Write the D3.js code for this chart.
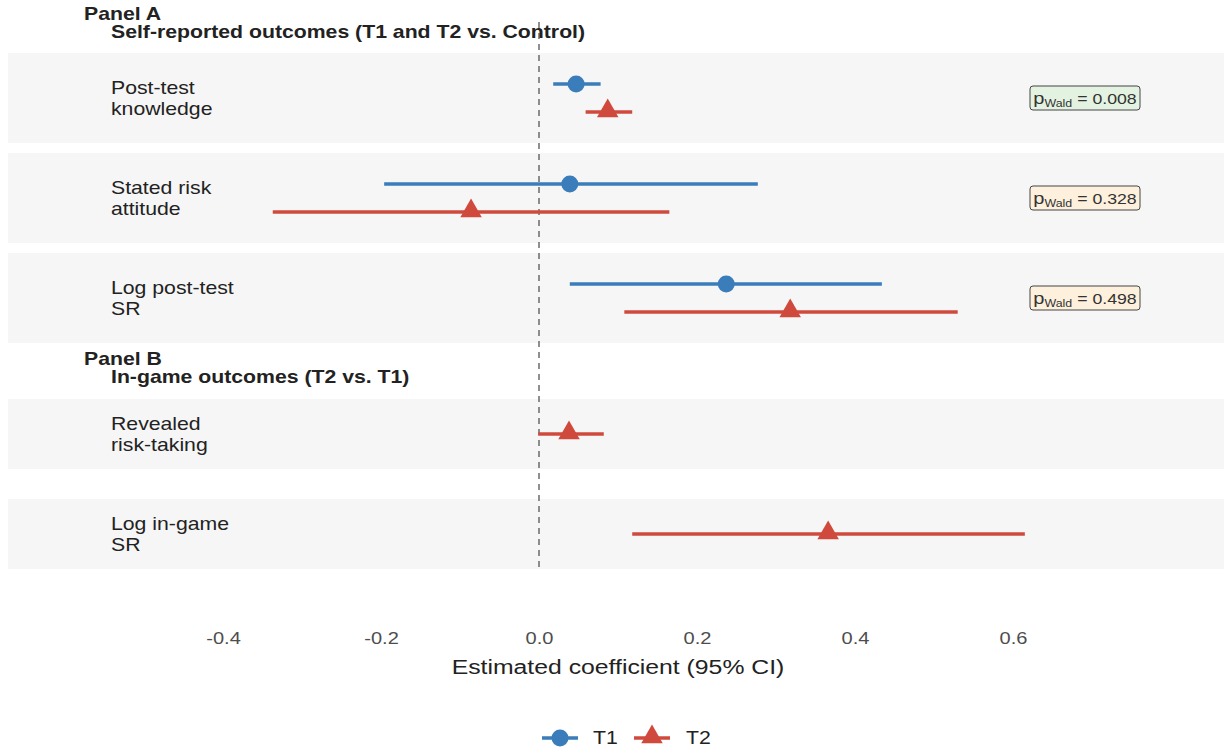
<!DOCTYPE html>
<html>
<head>
<meta charset="utf-8">
<script src="https://cdn.jsdelivr.net/npm/d3@7"></script>
<style>
  body { margin: 0; background: #fff; }
  text { font-family: "Liberation Sans", Arial, sans-serif; }
</style>
</head>
<body>
<svg id="chart" width="1224" height="753"></svg>
<script>
'use strict';

// outcomes, top to bottom
const OUTCOMES = [
    ["Post-test", "knowledge"],
    ["Stated risk", "attitude"],
    ["Log post-test", "SR"],
    ["Revealed", "risk-taking"],
    ["Log in-game", "SR"]
];
const PANEL = ["A", "A", "A", "B", "B"];

// T1 estimates and 95% CI (panel A only)
const T1_EST = [0.047, 0.039, 0.237, null, null];
const T1_LO = [0.018, -0.196, 0.039, null, null];
const T1_HI = [0.078, 0.277, 0.434, null, null];

// T2 estimates and 95% CI
const T2_EST = [0.087, -0.086, 0.318, 0.038, 0.366];
const T2_LO = [0.059, -0.337, 0.108, -0.001, 0.118];
const T2_HI = [0.118, 0.165, 0.530, 0.082, 0.615];

// Wald test p-values
const P_WALD = ["0.008", "0.328", "0.498", null, null];
const P_SIG = [true, false, false, null, null];

const X_TICKS = [-0.4, -0.2, 0.0, 0.2, 0.4, 0.6];

const BLUE = "#3a7dba";
const RED = "#cf4a3d";
const SX = 1.18; // the source font renders wider than Liberation Sans

const svg = d3.select("#chart");

const x = d3.scaleLinear().domain([-0.4, 0.6]).range([223, 1013]);

// band layout: panel A rows are taller (two series), panel B rows shorter
function bandTop(i) {
    return PANEL[i] === "A" ? 53 + i * 100 : 399 + (i - 3) * 100;
}
function bandHeight(i) {
    return PANEL[i] === "A" ? 90 : 70;
}
function bandMid(i) {
    return bandTop(i) + bandHeight(i) / 2;
}

/**
 * Text placed at (tx, ty), stretched horizontally by SX
 */
function wideText(parent, tx, ty, size) {
    return parent.append("g")
        .attr("transform", "translate(" + tx + "," + ty + ") scale(" + SX + ",1)")
        .append("text")
        .attr("font-size", size)
        .attr("fill", "#222");
}

const rows = OUTCOMES.map((o, i) => ({
    i: i,
    label: o,
    panel: PANEL[i],
    t1: T1_EST[i] === null ? null : { est: T1_EST[i], lo: T1_LO[i], hi: T1_HI[i] },
    t2: { est: T2_EST[i], lo: T2_LO[i], hi: T2_HI[i] },
    p: P_WALD[i],
    sig: P_SIG[i]
}));

// background bands
svg.append("g").selectAll("rect")
    .data(rows)
    .enter()
    .append("rect")
    .attr("x", 8)
    .attr("y", d => bandTop(d.i))
    .attr("width", 1224 - 8)
    .attr("height", d => bandHeight(d.i))
    .attr("fill", "#f6f6f6");

// zero reference line
svg.append("line")
    .attr("x1", x(0)).attr("x2", x(0))
    .attr("y1", 22).attr("y2", 570)
    .attr("stroke", "#555")
    .attr("stroke-width", 1.3)
    .attr("stroke-dasharray", "6,5");

// panel titles
const titles = [
    { head: "Panel A", sub: "Self-reported outcomes (T1 and T2 vs. Control)", y: 14 },
    { head: "Panel B", sub: "In-game outcomes (T2 vs. T1)", y: 359 }
];
titles.forEach(t => {
    wideText(svg, 84, t.y, 18)
        .attr("dy", "0.36em")
        .attr("font-weight", "bold")
        .text(t.head);
    wideText(svg, 111, t.y + 18, 18)
        .attr("dy", "0.36em")
        .attr("font-weight", "bold")
        .text(t.sub);
});

// outcome labels
rows.forEach(d => {
    const t = wideText(svg, 111, bandMid(d.i), 18);
    t.append("tspan").attr("x", 0).attr("dy", "-0.22em").text(d.label[0]);
    t.append("tspan").attr("x", 0).attr("dy", "1.17em").text(d.label[1]);
});

const DODGE = 14;
const triangle = d3.symbol().type(d3.symbolTriangle).size(200);

// T1 series
const t1 = svg.append("g").selectAll("g")
    .data(rows.filter(d => d.t1))
    .enter()
    .append("g");
t1.append("line")
    .attr("x1", d => x(d.t1.lo)).attr("x2", d => x(d.t1.hi))
    .attr("y1", d => bandMid(d.i) - DODGE).attr("y2", d => bandMid(d.i) - DODGE)
    .attr("stroke", BLUE).attr("stroke-width", 3.5);
t1.append("circle")
    .attr("cx", d => x(d.t1.est))
    .attr("cy", d => bandMid(d.i) - DODGE)
    .attr("r", 8.5)
    .attr("fill", BLUE);

// T2 series
function t2y(d) {
    return d.t1 ? bandMid(d.i) + DODGE : bandMid(d.i);
}
const t2 = svg.append("g").selectAll("g")
    .data(rows)
    .enter()
    .append("g");
t2.append("line")
    .attr("x1", d => x(d.t2.lo)).attr("x2", d => x(d.t2.hi))
    .attr("y1", t2y).attr("y2", t2y)
    .attr("stroke", RED).attr("stroke-width", 3.5);
t2.append("path")
    .attr("d", triangle)
    .attr("transform", d => "translate(" + x(d.t2.est) + "," + (t2y(d) - 1) + ")")
    .attr("fill", RED);

// Wald p-value boxes
rows.filter(d => d.p).forEach(d => {
    const g = svg.append("g").attr("transform", "translate(1085," + bandMid(d.i) + ")");
    g.append("rect")
        .attr("x", -55).attr("y", -12)
        .attr("width", 110).attr("height", 24)
        .attr("rx", 3)
        .attr("fill", d.sig ? "#e4f3e1" : "#fdf0dc")
        .attr("stroke", "#444")
        .attr("stroke-width", 1);
    const t = wideText(g, 0, 0, 15)
        .attr("text-anchor", "middle")
        .attr("dy", "0.4em")
        .attr("fill", "#333");
    t.append("tspan").attr("font-size", 17).text("p");
    t.append("tspan").attr("font-size", 10.5).attr("dy", 3).text("Wald");
    t.append("tspan").attr("dy", -3).text(" = " + d.p);
});

// x axis (labels only)
const axis = svg.append("g")
    .attr("transform", "translate(0,629)")
    .call(d3.axisBottom(x).tickValues(X_TICKS).tickSize(0)
        .tickFormat(v => d3.format(".1f")(v).replace("\u2212", "-")));
axis.select(".domain").remove();
axis.selectAll("text")
    .attr("font-size", 17)
    .attr("fill", "#4d4d4d")
    .attr("font-family", "Liberation Sans, Arial, sans-serif")
    .attr("transform", "scale(" + SX + ",1)");

wideText(svg, x(0.1), 666, 21)
    .attr("text-anchor", "middle")
    .attr("dy", "0.36em")
    .text("Estimated coefficient (95% CI)");

// legend
const legend = svg.append("g").attr("transform", "translate(0,738)");
legend.append("line")
    .attr("x1", 542).attr("x2", 578).attr("y1", 0).attr("y2", 0)
    .attr("stroke", BLUE).attr("stroke-width", 3.5);
legend.append("circle")
    .attr("cx", 560).attr("cy", 0).attr("r", 8.5).attr("fill", BLUE);
wideText(legend, 593, 0, 18).attr("dy", "0.36em").text("T1");
legend.append("line")
    .attr("x1", 634).attr("x2", 670).attr("y1", 0).attr("y2", 0)
    .attr("stroke", RED).attr("stroke-width", 3.5);
legend.append("path")
    .attr("d", triangle)
    .attr("transform", "translate(652,-1)")
    .attr("fill", RED);
wideText(legend, 686, 0, 18).attr("dy", "0.36em").text("T2");
</script>
</body>
</html>
